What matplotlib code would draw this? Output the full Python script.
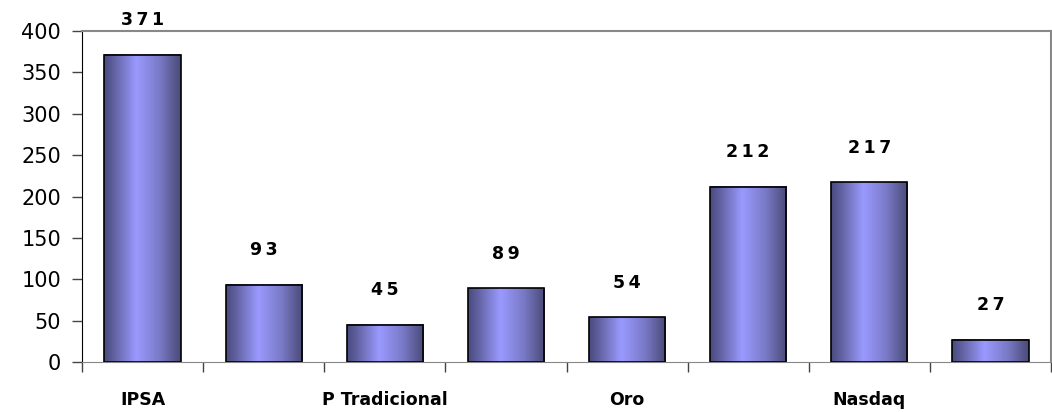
import numpy as np
import matplotlib.pyplot as plt
from matplotlib.colors import LinearSegmentedColormap

# Data
categories = ["IPSA", "", "P Tradicional", "", "Oro", "", "Nasdaq", ""]
values = [371, 93, 45, 89, 54, 212, 217, 27]

fig = plt.figure(figsize=(10.52, 4.12), dpi=100)
ax = fig.add_axes([0.078, 0.121, 0.921, 0.804])

x = np.arange(len(values))
bars = ax.bar(x, values, width=0.63, facecolor="none", edgecolor="black",
              linewidth=1.2, zorder=3)

# horizontal gradient fill like the Excel bars
cmap = LinearSegmentedColormap.from_list(
    "bargrad", [(0.0, "#4a4a7e"), (0.12, "#5f5f9e"), (0.42, "#9a9aff"),
                (0.72, "#7a7ac8"), (1.0, "#4a4a78")])
grad = np.linspace(0, 1, 256).reshape(1, -1)
for b in bars:
    x0, w, h = b.get_x(), b.get_width(), b.get_height()
    ax.imshow(grad, extent=[x0, x0 + w, 0, h], aspect="auto", cmap=cmap,
              zorder=2, interpolation="bicubic")

# value labels, slightly spaced out like the original
for xi, v in zip(x, values):
    ax.annotate(" ".join(str(v)).replace(" ", "\u2009"), (xi, v),
                xytext=(0, 25), textcoords="offset points",
                ha="center", va="center", fontsize=12.5, fontweight="bold")

ax.set_xlim(-0.5, len(values) - 0.5)
ax.set_ylim(0, 400)
ax.set_yticks(range(0, 401, 50))
ax.tick_params(axis="y", labelsize=15, length=7, width=1, pad=8, color="#444444")

ax.set_xticks(x)
ax.set_xticklabels(categories, fontsize=12.5, fontweight="bold")
ax.tick_params(axis="x", which="major", length=0, pad=21)
ax.set_xticks(np.arange(len(values) + 1) - 0.5, minor=True)
ax.tick_params(axis="x", which="minor", length=7, width=1, color="#444444")

for s in ["top", "right"]:
    ax.spines[s].set_color("#888888")
    ax.spines[s].set_linewidth(1.5)
ax.spines["left"].set_color("black")
ax.spines["bottom"].set_color("#888888")

fig.savefig("out.png", dpi=100)
